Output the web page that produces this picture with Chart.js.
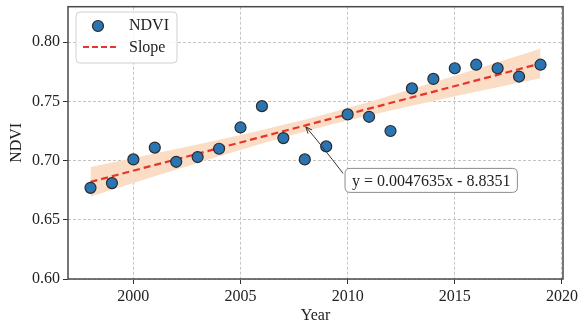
<!DOCTYPE html>
<html><head><meta charset="utf-8">
<script src="https://cdn.jsdelivr.net/npm/chart.js@4"></script>
<style>html,body{margin:0;padding:0;background:#fff;}</style>
</head><body>
<canvas id="c" width="584" height="327"></canvas>
<script>
// ---- data ----
const years = [1998,1999,2000,2001,2002,2003,2004,2005,2006,2007,2008,2009,2010,2011,2012,2013,2014,2015,2016,2017,2018,2019];
const ndvi  = [0.677,0.681,0.701,0.711,0.699,0.703,0.710,0.728,0.746,0.719,0.701,0.712,0.739,0.737,0.725,0.761,0.769,0.778,0.781,0.778,0.771,0.781];
const trendYears  = [1998, 2019];
const trendValues = [0.682, 0.782];
const bandUpper = [0.6945,0.6983,0.7020,0.7059,0.7097,0.7136,0.7176,0.7216,0.7258,0.7302,0.7346,0.7394,0.7444,0.7496,0.7550,0.7604,0.7660,0.7717,0.7773,0.7830,0.7887,0.7945];
const bandLower = [0.6695,0.6753,0.6810,0.6867,0.6923,0.6980,0.7036,0.7090,0.7144,0.7196,0.7246,0.7294,0.7338,0.7382,0.7424,0.7464,0.7504,0.7543,0.7581,0.7620,0.7657,0.7695];
const xTicks = [2000,2005,2010,2015,2020];
const yTicks = [0.60,0.65,0.70,0.75,0.80];
const seriesNames = ['NDVI','Slope'];
const xTitle = 'Year';
const yTitle = 'NDVI';
const equationText = 'y = 0.0047635x - 8.8351';
const arrowTip = {x: 2008.05, y: 0.7285};
const equationAt = {x: 2013.9, y: 0.6833};

const FONT = '"Liberation Serif", "Times New Roman", serif';
const pts = (xs, ys) => xs.map((x, i) => ({x, y: ys[i]}));

const overlay = {
  id: 'overlay',
  afterDraw(chart) {
    const {ctx, chartArea: a, scales: {x, y}} = chart;
    ctx.save();
    // frame
    ctx.strokeStyle = '#4a4a4a';
    ctx.lineWidth = 1.5;
    ctx.strokeRect(a.left, a.top, a.right - a.left, a.bottom - a.top);

    // legend
    const lx = 76, ly = 12, lw = 101, lh = 51, r = 4;
    ctx.beginPath();
    ctx.moveTo(lx + r, ly); ctx.lineTo(lx + lw - r, ly); ctx.quadraticCurveTo(lx + lw, ly, lx + lw, ly + r);
    ctx.lineTo(lx + lw, ly + lh - r); ctx.quadraticCurveTo(lx + lw, ly + lh, lx + lw - r, ly + lh);
    ctx.lineTo(lx + r, ly + lh); ctx.quadraticCurveTo(lx, ly + lh, lx, ly + lh - r);
    ctx.lineTo(lx, ly + r); ctx.quadraticCurveTo(lx, ly, lx + r, ly);
    ctx.closePath();
    ctx.fillStyle = 'rgba(255,255,255,0.85)';
    ctx.fill();
    ctx.strokeStyle = '#d0d0d0';
    ctx.lineWidth = 1;
    ctx.stroke();
    ctx.beginPath();
    ctx.arc(98, 26, 5.5, 0, Math.PI * 2);
    ctx.fillStyle = '#2a74b2'; ctx.fill();
    ctx.strokeStyle = '#2b2b2b'; ctx.lineWidth = 1.2; ctx.stroke();
    ctx.beginPath();
    ctx.setLineDash([6, 3]);
    ctx.moveTo(83, 47); ctx.lineTo(116, 47);
    ctx.strokeStyle = '#e8352c'; ctx.lineWidth = 2; ctx.stroke();
    ctx.setLineDash([]);
    ctx.fillStyle = '#222';
    ctx.font = '16px ' + FONT;
    ctx.textAlign = 'left';
    ctx.textBaseline = 'middle';
    ctx.fillText(seriesNames[0], 129, 26);
    ctx.fillText(seriesNames[1], 129, 48);

    // equation box
    const cx = x.getPixelForValue(equationAt.x), cy = y.getPixelForValue(equationAt.y);
    const tw = ctx.measureText(equationText).width;
    const bw = tw + 14, bh = 24, bx = cx - bw / 2, by = cy - bh / 2, br = 5;
    ctx.beginPath();
    ctx.moveTo(bx + br, by); ctx.lineTo(bx + bw - br, by); ctx.quadraticCurveTo(bx + bw, by, bx + bw, by + br);
    ctx.lineTo(bx + bw, by + bh - br); ctx.quadraticCurveTo(bx + bw, by + bh, bx + bw - br, by + bh);
    ctx.lineTo(bx + br, by + bh); ctx.quadraticCurveTo(bx, by + bh, bx, by + bh - br);
    ctx.lineTo(bx, by + br); ctx.quadraticCurveTo(bx, by, bx + br, by);
    ctx.closePath();
    ctx.fillStyle = '#fff'; ctx.fill();
    ctx.strokeStyle = '#8a8a8a'; ctx.lineWidth = 1; ctx.stroke();
    ctx.fillStyle = '#222';
    ctx.textAlign = 'center';
    ctx.fillText(equationText, cx, cy + 1);

    // arrow
    const tx = x.getPixelForValue(arrowTip.x), ty = y.getPixelForValue(arrowTip.y);
    const sx = bx - 2, sy = by + 5;
    const qx = (sx + tx) / 2 - 3, qy = (sy + ty) / 2 - 5;
    ctx.beginPath();
    ctx.moveTo(sx, sy);
    ctx.quadraticCurveTo(qx, qy, tx, ty);
    ctx.strokeStyle = '#333'; ctx.lineWidth = 1; ctx.stroke();
    const ang = Math.atan2(ty - qy, tx - qx);
    ctx.beginPath();
    ctx.moveTo(tx - 7 * Math.cos(ang - 0.4), ty - 7 * Math.sin(ang - 0.4));
    ctx.lineTo(tx, ty);
    ctx.lineTo(tx - 7 * Math.cos(ang + 0.4), ty - 7 * Math.sin(ang + 0.4));
    ctx.stroke();
    ctx.restore();
  }
};

new Chart(document.getElementById('c'), {
  type: 'scatter',
  data: {
    datasets: [
      { label: seriesNames[0], data: pts(years, ndvi), backgroundColor: '#2a74b2', borderColor: '#2b2b2b', borderWidth: 1.2, pointRadius: 5.5 },
      { label: seriesNames[1], type: 'line', data: pts(trendYears, trendValues), borderColor: '#e8352c', borderWidth: 2.2, borderDash: [7, 4], pointRadius: 0, fill: false },
      { label: 'upper', type: 'line', data: pts(years, bandUpper), borderWidth: 0, pointRadius: 0, fill: '+1', backgroundColor: '#fbdcc4', borderColor: 'rgba(0,0,0,0)' },
      { label: 'lower', type: 'line', data: pts(years, bandLower), borderWidth: 0, pointRadius: 0, fill: false, borderColor: 'rgba(0,0,0,0)' }
    ]
  },
  options: {
    responsive: false,
    animation: false,
    devicePixelRatio: 1,
    layout: { padding: { left: 0, right: 21, top: 4, bottom: 0 } },
    plugins: { legend: { display: false }, tooltip: { enabled: false } },
    scales: {
      x: {
        type: 'linear', min: 1996.95, max: 2020.05,
        afterBuildTicks: s => { s.ticks = xTicks.map(v => ({value: v})); },
        afterFit: s => { s.height = 48; s.paddingLeft = 0; s.paddingRight = 0; },
        ticks: { callback: v => String(v), color: '#222', font: { family: FONT, size: 16 }, padding: 3, maxRotation: 0 },
        grid: { color: '#c4c4c4', lineWidth: 1, tickColor: '#333', tickLength: 5, tickBorderDash: [] },
        border: { display: false, dash: [3, 2] },
        title: { display: true, text: xTitle, color: '#222', font: { family: FONT, size: 16 }, padding: { top: 0, bottom: 2 } }
      },
      y: {
        min: 0.6, max: 0.83,
        afterBuildTicks: s => { s.ticks = yTicks.map(v => ({value: v})); },
        afterFit: s => { s.width = 68; s.paddingTop = 0; s.paddingBottom = 0; },
        ticks: { callback: v => Number(v).toFixed(2), color: '#222', font: { family: FONT, size: 16 }, padding: 3 },
        grid: { color: '#c4c4c4', lineWidth: 1, tickColor: '#333', tickLength: 5, tickBorderDash: [] },
        border: { display: false, dash: [3, 2] },
        title: { display: true, text: yTitle, color: '#222', font: { family: FONT, size: 16 }, padding: { top: 7, bottom: 0 } }
      }
    }
  },
  plugins: [overlay]
});
</script>
</body></html>
